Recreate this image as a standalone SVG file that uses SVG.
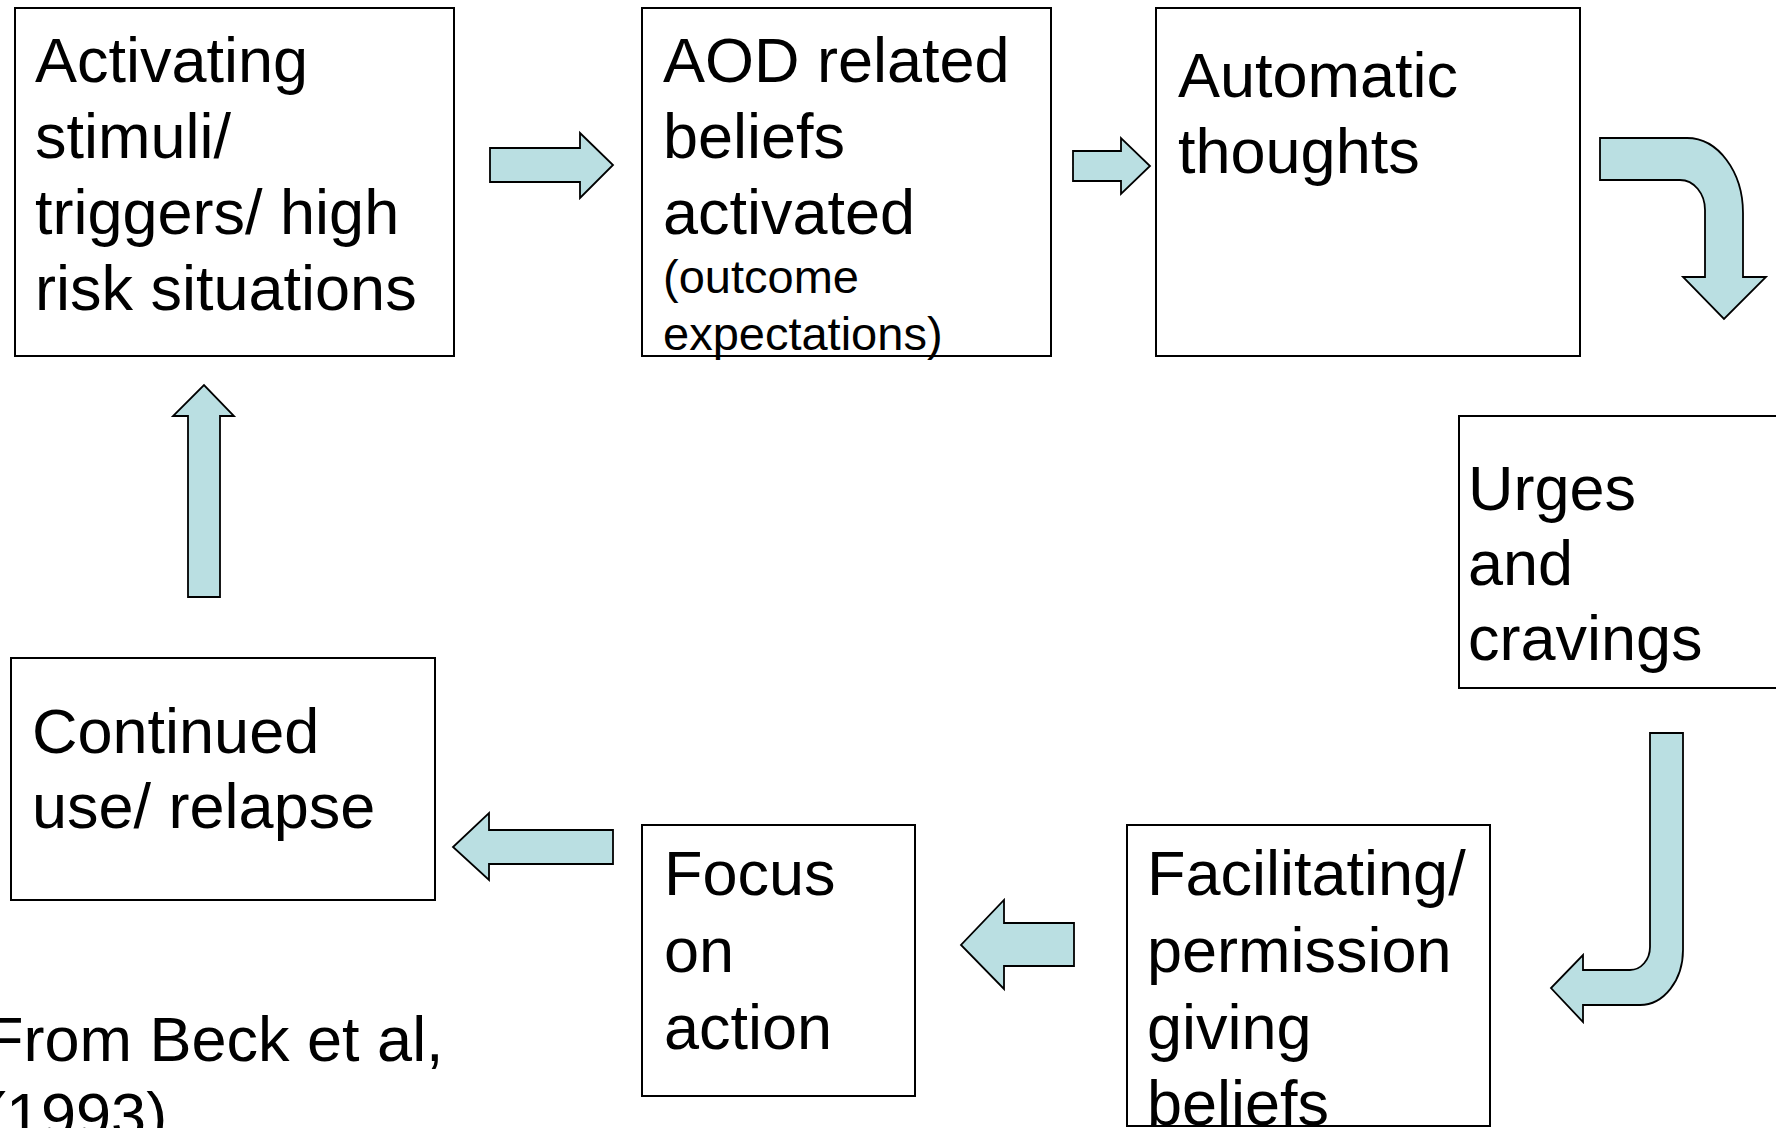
<svg xmlns="http://www.w3.org/2000/svg" width="1776" height="1128" viewBox="0 0 1776 1128">
<style>
.box{fill:#fff;stroke:#000;stroke-width:2}
.arr{fill:#BADFE2;stroke:#000;stroke-width:1.8;stroke-linejoin:miter}
text{font-family:"Liberation Sans",Arial,sans-serif;fill:#000}
.t{font-size:63px}
.s{font-size:47px}
</style>
<rect width="1776" height="1128" fill="#fff"/>
<g id="connectors">
<path class="arr" d="M490,148 H580 V133 L613,165 L580,198 V182 H490 Z"/>
<path class="arr" d="M1073,151 H1121 V138 L1150,166 L1121,194 V181 H1073 Z"/>
<path class="arr" d="M1600,138 H1687 A56,75 0 0 1 1743,213 V277 H1766 L1724,319 L1683,277 H1705 V210 A25,30 0 0 0 1680,180 H1600 Z"/>
<path class="arr" d="M1650,733 H1683 V950 A43,55 0 0 1 1640,1005 H1583 V1022 L1551,988 L1583,955 V970 H1630 A20,23 0 0 0 1650,947 Z"/>
<path class="arr" d="M1074,923 H1004 V900 L961,945 L1004,989 V966 H1074 Z"/>
<path class="arr" d="M613,830 H489 V813 L453,847 L489,880 V864 H613 Z"/>
<path class="arr" d="M188,597 V416 H173 L204,385 L234,416 H220 V597 Z"/>
</g>
<g id="n1">
<rect class="box" x="15" y="8" width="439" height="348"/>
<text class="t" x="35" y="82">Activating</text>
<text class="t" x="35" y="158">stimuli/</text>
<text class="t" x="35" y="234">triggers/ high</text>
<text class="t" x="35" y="310">risk situations</text>
</g>
<g id="n2">
<rect class="box" x="642" y="8" width="409" height="348"/>
<text class="t" x="663" y="82">AOD related</text>
<text class="t" x="663" y="158">beliefs</text>
<text class="t" x="663" y="234">activated</text>
<text class="s" x="663" y="293">(outcome</text>
<text class="s" x="663" y="350">expectations)</text>
</g>
<g id="n3">
<rect class="box" x="1156" y="8" width="424" height="348"/>
<text class="t" x="1178" y="97">Automatic</text>
<text class="t" x="1178" y="173">thoughts</text>
</g>
<g id="n4">
<rect class="box" x="1459" y="416" width="330" height="272"/>
<text class="t" x="1468" y="510">Urges</text>
<text class="t" x="1468" y="585">and</text>
<text class="t" x="1468" y="660">cravings</text>
</g>
<g id="n5">
<rect class="box" x="1127" y="825" width="363" height="301"/>
<text class="t" x="1147" y="895">Facilitating/</text>
<text class="t" x="1147" y="972">permission</text>
<text class="t" x="1147" y="1049">giving</text>
<text class="t" x="1147" y="1125">beliefs</text>
</g>
<g id="n6">
<rect class="box" x="642" y="825" width="273" height="271"/>
<text class="t" x="664" y="895">Focus</text>
<text class="t" x="664" y="972">on</text>
<text class="t" x="664" y="1049">action</text>
</g>
<g id="n7">
<rect class="box" x="11" y="658" width="424" height="242"/>
<text class="t" x="32" y="753">Continued</text>
<text class="t" x="32" y="828">use/ relapse</text>
</g>
<g id="citation">
<text class="t" x="-15" y="1061">From Beck et al,</text>
<text class="t" x="-15" y="1137">(1993)</text>
</g>
</svg>
